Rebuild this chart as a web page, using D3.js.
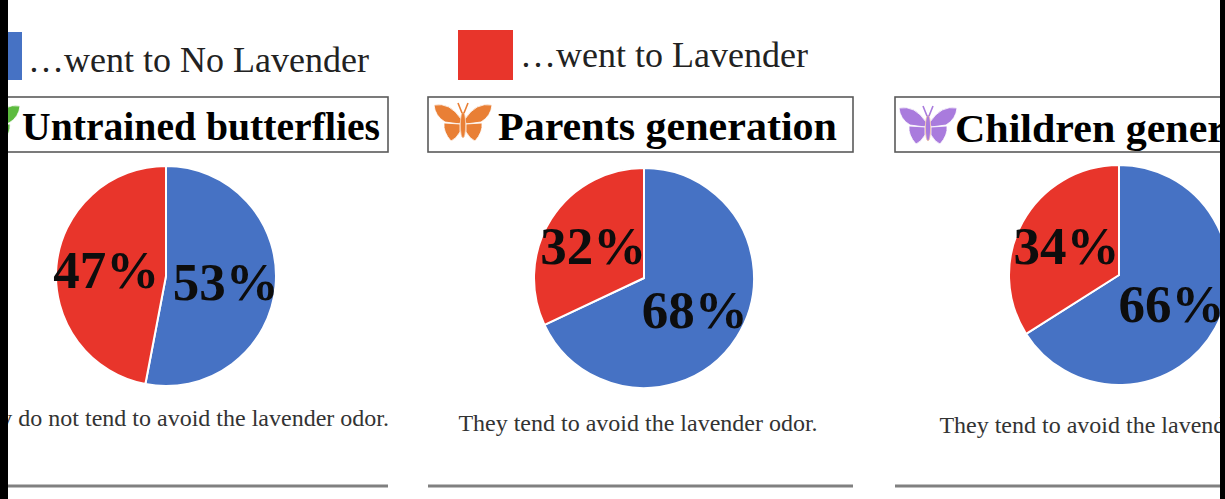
<!DOCTYPE html>
<html>
<head>
<meta charset="utf-8">
<script src="https://cdn.jsdelivr.net/npm/d3@7"></script>
<style>
  html, body { margin: 0; padding: 0; background: #fff; }
  svg { display: block; }
</style>
</head>
<body>
<svg id="chart" width="1225" height="499"></svg>
<script>
// ---------- data ----------
const groups = ["Untrained butterflies", "Parents generation", "Children generation"];
const noLavenderPct = [53, 68, 66];
const lavenderPct = [47, 32, 34];
const seriesNames = ["…went to No Lavender", "…went to Lavender"];
const captions = [
  "They do not tend to avoid the lavender odor.",
  "They tend to avoid the lavender odor.",
  "They tend to avoid the lavender odor."
];

// ---------- layout / style ----------
const W = 1225, H = 499;
const colors = { noLav: "#4672C4", lav: "#E8352B" };
const iconColors = ["#5DBB3F", "#E97F35", "#A97BDD"];
const boxLeft = [-37, 428, 895], boxW = 425, boxTop = 97, boxH = 55;
const pieCx = [166, 644, 1119], pieCy = [276, 278, 275], R = 110;
const titleX = [22, 498, 955], titleY = [140, 140, 142], titleLen = [358, 339, 362];
const iconCx = [-9, 463, 928], iconCy = [123, 122, 125];
const captionX = [176, 638, 1119], captionY = [426, 431, 433];
const lineY = 486;

const svg = d3.select("#chart");
svg.append("rect").attr("width", W).attr("height", H).attr("fill", "#fff");

// ---------- legend ----------
const legend = [
  { name: seriesNames[0], color: colors.noLav, rx: -33, ry: 32, rw: 55, rh: 48, tx: 28, ty: 72 },
  { name: seriesNames[1], color: colors.lav, rx: 458, ry: 30, rw: 55, rh: 50, tx: 520, ty: 67 }
];
const lg = svg.append("g");
lg.selectAll("rect").data(legend).join("rect")
  .attr("x", d => d.rx).attr("y", d => d.ry).attr("width", d => d.rw).attr("height", d => d.rh)
  .attr("fill", d => d.color);
lg.selectAll("text").data(legend).join("text")
  .attr("x", d => d.tx).attr("y", d => d.ty)
  .attr("font-family", "'Liberation Serif', 'Times New Roman', serif")
  .attr("font-size", 36).attr("fill", "#222")
  .text(d => d.name);

// ---------- panels ----------
const pie = d3.pie().sort(null).value(d => d.value);
const arc = d3.arc().innerRadius(0).outerRadius(R);
const labelArc = d3.arc().innerRadius(60).outerRadius(60);

function butterfly(g, color) {
  const half = g.append("g");
  [1, -1].forEach(s => {
    const w = g.append("g").attr("transform", `scale(${s},1)`);
    w.append("path")
      .attr("d", "M2,-3 Q13,-20 29,-17 Q28,-6 18,0 L3,2 Z")
      .attr("fill", color).attr("stroke", "#fff").attr("stroke-width", 0.8);
    w.append("path")
      .attr("d", "M3,2 L19,1 Q20,10 12,19 Q7,17 3,10 Z")
      .attr("fill", color).attr("stroke", "#fff").attr("stroke-width", 0.8);
  });
  g.append("ellipse").attr("cx", 0).attr("cy", 3).attr("rx", 2.6).attr("ry", 13)
    .attr("fill", color).attr("stroke", "#f4c9a8").attr("stroke-width", 0.8);
  g.append("path").attr("d", "M-1,-9 L-5,-19 M1,-9 L5,-19")
    .attr("stroke", color).attr("stroke-width", 1.6).attr("fill", "none");
}

groups.forEach((name, i) => {
  const p = svg.append("g");

  // title box
  p.append("rect")
    .attr("x", boxLeft[i]).attr("y", boxTop).attr("width", boxW).attr("height", boxH)
    .attr("fill", "#fff").attr("stroke", "#5a5a5a").attr("stroke-width", 1.6);
  butterfly(p.append("g").attr("transform", `translate(${iconCx[i]},${iconCy[i]})`), iconColors[i]);
  p.append("text")
    .attr("x", titleX[i]).attr("y", titleY[i])
    .attr("font-family", "'Liberation Serif', 'Times New Roman', serif")
    .attr("font-weight", "bold").attr("font-size", 40).attr("fill", "#000")
    .attr("textLength", titleLen[i]).attr("lengthAdjust", "spacingAndGlyphs")
    .text(name);

  // pie
  const data = [
    { key: "noLav", value: noLavenderPct[i] },
    { key: "lav", value: lavenderPct[i] }
  ];
  const arcs = pie(data);
  const pg = p.append("g").attr("transform", `translate(${pieCx[i]},${pieCy[i]})`);
  pg.selectAll("path").data(arcs).join("path")
    .attr("d", arc)
    .attr("fill", d => colors[d.data.key])
    .attr("stroke", "#fff").attr("stroke-width", 2);
  pg.selectAll("text").data(arcs).join("text")
    .attr("transform", d => `translate(${labelArc.centroid(d)})`)
    .attr("text-anchor", "middle").attr("dy", "0.34em")
    .attr("font-family", "'Liberation Serif', 'Times New Roman', serif")
    .attr("font-weight", "bold").attr("font-size", 53).attr("fill", "#0d0d0d")
    .text(d => d.data.value + "%");

  // caption
  p.append("text")
    .attr("x", captionX[i]).attr("y", captionY[i]).attr("text-anchor", "middle")
    .attr("font-family", "'Liberation Serif', 'Times New Roman', serif")
    .attr("font-size", 24).attr("fill", "#333")
    .text(captions[i]);

  // bottom rule
  p.append("line")
    .attr("x1", boxLeft[i]).attr("x2", boxLeft[i] + boxW)
    .attr("y1", lineY).attr("y2", lineY)
    .attr("stroke", "#808080").attr("stroke-width", 3);
});

// ---------- frame edges ----------
svg.append("rect").attr("x", 0).attr("y", 0).attr("width", 8).attr("height", H).attr("fill", "#000");
svg.append("rect").attr("x", 1220).attr("y", 0).attr("width", 5).attr("height", H).attr("fill", "#000");
</script>
</body>
</html>
